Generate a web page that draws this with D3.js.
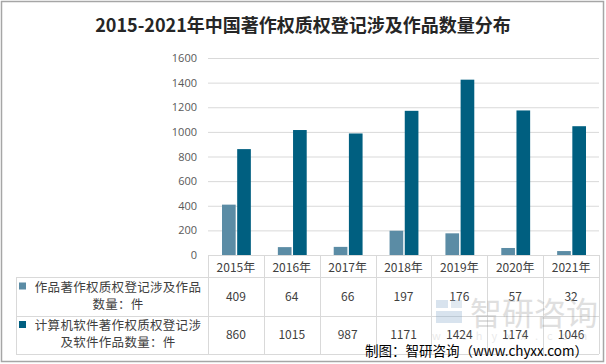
<!DOCTYPE html>
<html>
<head>
<meta charset="utf-8">
<script src="https://cdn.jsdelivr.net/npm/d3@7"></script>
<style>
  body { margin: 0; background: #fff; }
  svg { display: block; font-family: "Noto Sans CJK SC", "Noto Sans", sans-serif; }
</style>
</head>
<body>
<div id="chart"></div>
<script>
// Data
const years = ['2015年', '2016年', '2017年', '2018年', '2019年', '2020年', '2021年'];
const worksCount = [409, 64, 66, 197, 176, 57, 32];
const softwareCount = [860, 1015, 987, 1171, 1424, 1174, 1046];
const yTicks = [0, 200, 400, 600, 800, 1000, 1200, 1400, 1600];
const seriesNames = [
  ['作品著作权质权登记涉及作品', '数量：件'],
  ['计算机软件著作权质权登记涉', '及软件作品数量：件'],
];
const seriesColors = ['#5b8ca5', '#005f80'];

const width = 606;
const height = 364;
const plotLeft = 208;
const plotRight = 599;
const plotTop = 58;
const plotBottom = 255;
const tableLeft = 16;
const rowBounds = [255, 277, 316, 354];

const svg = d3
  .select('#chart')
  .append('svg')
  .attr('width', width)
  .attr('height', height);

// outer frame
svg
  .append('rect')
  .attr('x', 1.5)
  .attr('y', 1.5)
  .attr('width', width - 4)
  .attr('height', height - 4)
  .attr('fill', '#fff')
  .attr('stroke', '#a6a6a6')
  .attr('stroke-width', 1.5);

// Title
svg
  .append('text')
  .attr('x', 303)
  .attr('y', 32)
  .attr('text-anchor', 'middle')
  .style('font-size', '18px')
  .style('font-weight', 'bold')
  .style('fill', '#262626')
  .text('2015-2021年中国著作权质权登记涉及作品数量分布');

// Scales
const x = d3.scaleBand().domain(years).range([plotLeft, plotRight]);
const y = d3.scaleLinear().domain([0, 1600]).range([plotBottom, plotTop]);

const inner = d3
  .scaleBand()
  .domain([0, 1])
  .range([14, x.bandwidth() - 13])
  .paddingInner(0.1);

// gridlines
svg
  .append('g')
  .selectAll('line')
  .data(yTicks.slice(1))
  .enter()
  .append('line')
  .attr('x1', plotLeft)
  .attr('x2', plotRight)
  .attr('y1', (d) => y(d) + 0.5)
  .attr('y2', (d) => y(d) + 0.5)
  .attr('stroke', '#d9d9d9');

// y axis labels
const yAxis = d3
  .axisLeft(y)
  .tickValues(yTicks)
  .tickFormat(d3.format('d'))
  .tickSize(0)
  .tickPadding(11);
const yg = svg
  .append('g')
  .attr('transform', 'translate(' + plotLeft + ',0)')
  .call(yAxis);
yg.select('.domain').remove();
yg.selectAll('text')
  .style('font-family', '"Open Sans", "Noto Sans", sans-serif')
  .style('font-size', '11px')
  .style('fill', '#595959');

// Bars
const seriesData = [worksCount, softwareCount];
seriesData.forEach((vals, si) => {
  svg
    .append('g')
    .selectAll('rect')
    .data(vals)
    .enter()
    .append('rect')
    .attr('x', (d, i) => x(years[i]) + inner(si))
    .attr('y', (d) => y(d))
    .attr('width', inner.bandwidth())
    .attr('height', (d) => plotBottom - y(d))
    .attr('fill', seriesColors[si]);
});

// Table grid
const table = svg.append('g').attr('stroke', '#d9d9d9').attr('fill', 'none');
// horizontal lines
table
  .append('line')
  .attr('x1', plotLeft).attr('x2', plotRight)
  .attr('y1', rowBounds[0] + 0.5).attr('y2', rowBounds[0] + 0.5);
rowBounds.slice(1).forEach((yy) => {
  table
    .append('line')
    .attr('x1', tableLeft).attr('x2', plotRight)
    .attr('y1', yy + 0.5).attr('y2', yy + 0.5);
});
// vertical lines
const colEdges = years.map((d) => x(d)).concat([plotRight]);
colEdges.forEach((xx) => {
  table
    .append('line')
    .attr('x1', Math.round(xx) + 0.5).attr('x2', Math.round(xx) + 0.5)
    .attr('y1', rowBounds[0]).attr('y2', rowBounds[3]);
});
table
  .append('line')
  .attr('x1', tableLeft + 0.5).attr('x2', tableLeft + 0.5)
  .attr('y1', rowBounds[1]).attr('y2', rowBounds[3]);

// Header years
svg
  .append('g')
  .selectAll('text')
  .data(years)
  .enter()
  .append('text')
  .attr('x', (d) => x(d) + x.bandwidth() / 2)
  .attr('y', 272)
  .attr('text-anchor', 'middle')
  .style('font-size', '12px')
  .style('fill', '#404040')
  .text((d) => d);

// Row labels and values
seriesData.forEach((vals, si) => {
  const top = rowBounds[si + 1];
  const bottom = rowBounds[si + 2];
  const mid = (top + bottom) / 2;

  svg
    .append('rect')
    .attr('x', 19)
    .attr('y', mid - 14)
    .attr('width', 7)
    .attr('height', 7)
    .attr('fill', seriesColors[si]);

  svg
    .append('text')
    .attr('x', 118)
    .attr('y', mid - 5)
    .attr('text-anchor', 'middle')
    .style('font-size', '12.5px')
    .style('letter-spacing', '0.3px')
    .style('fill', '#404040')
    .text(seriesNames[si][0]);

  svg
    .append('text')
    .attr('x', 118)
    .attr('y', mid + 12)
    .attr('text-anchor', 'middle')
    .style('font-size', '12.5px')
    .style('letter-spacing', '0.3px')
    .style('fill', '#404040')
    .text(seriesNames[si][1]);

  svg
    .append('g')
    .selectAll('text')
    .data(vals)
    .enter()
    .append('text')
    .attr('x', (d, i) => x(years[i]) + x.bandwidth() / 2)
    .attr('y', mid + 4)
    .attr('text-anchor', 'middle')
    .style('font-size', '12px')
    .style('fill', '#404040')
    .text((d) => d);
});

// Watermark (faint, as in the reference)
const wm = svg.append('g').style('opacity', 0.3);
wm.append('rect').attr('x', 436).attr('y', 300).attr('width', 12).attr('height', 8).attr('fill', '#7fa6c9');
wm.append('rect').attr('x', 436).attr('y', 311).attr('width', 26).attr('height', 12).attr('fill', '#7fa6c9');
wm.append('rect').attr('x', 451).attr('y', 300).attr('width', 11).attr('height', 8).attr('fill', '#9db8d0');
wm.append('text')
  .attr('x', 470)
  .attr('y', 325)
  .style('font-size', '32px')
  .style('fill', '#999')
  .text('智研咨询');
wm.append('text')
  .attr('x', 432)
  .attr('y', 340)
  .style('font-size', '11px')
  .style('letter-spacing', '9px')
  .style('fill', '#bbb')
  .text('w.chyxx.com');

// Source note
svg
  .append('text')
  .attr('x', 365)
  .attr('y', 356)
  .style('font-size', '13.5px')
  .style('fill', '#000')
  .text('制图：智研咨询（www.chyxx.com）');
</script>
</body>
</html>
